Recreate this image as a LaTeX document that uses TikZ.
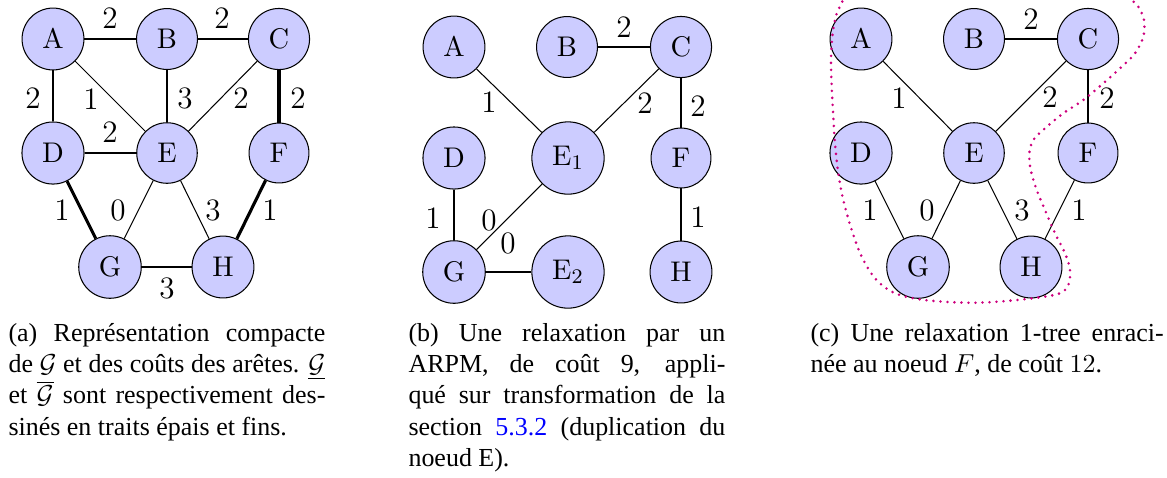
\documentclass[tikz,border=0pt]{standalone}
\usepackage[no-math]{fontspec}
\setmainfont{Liberation Serif}
\usetikzlibrary{calc}
\definecolor{nodefill}{RGB}{204,204,255}
\definecolor{dotc}{RGB}{205,0,125}
\definecolor{linkc}{RGB}{0,0,255}
\begin{document}
\begin{tikzpicture}[x=0.385pt,y=-0.385pt,
  vtx/.style={circle, draw=black, line width=0.4pt, fill=nodefill, minimum size=23pt, inner sep=4.5pt, font=\fontsize{11}{13}\selectfont},
  edge/.style={draw=black, line width=0.4pt},
  thk/.style={draw=black, line width=1.2pt},
  lbl/.style={inner sep=0pt, font=\fontsize{12}{14}\selectfont},
  captxt/.style={inner sep=0pt, anchor=north west, align=justify, font=\fontsize{10}{12}\selectfont},
  ring/.style={draw=dotc, line width=1.1pt, line cap=round, dash pattern=on 0pt off 2.7pt}]
\useasboundingbox (0,0) rectangle (1167,477);
% ---------------- panel (a)
\node[vtx] (aA) at (53,39) {$\mathrm{A}$};
\node[vtx] (aB) at (167,39) {$\mathrm{B}$};
\node[vtx] (aC) at (279,39) {$\mathrm{C}$};
\node[vtx] (aD) at (53,153) {$\mathrm{D}$};
\node[vtx] (aE) at (167,153) {$\mathrm{E}$};
\node[vtx] (aF) at (279,153) {$\mathrm{F}$};
\node[vtx] (aG) at (110,267) {$\mathrm{G}$};
\node[vtx] (aH) at (223,267) {$\mathrm{H}$};
\draw[edge] (aA) -- (aB);
\draw[edge] (aB) -- (aC);
\draw[edge] (aA) -- (aD);
\draw[edge] (aA) -- (aE);
\draw[edge] (aB) -- (aE);
\draw[edge] (aC) -- (aE);
\draw[thk] (aC) -- (aF);
\draw[edge] (aD) -- (aE);
\draw[thk] (aD) -- (aG);
\draw[edge] (aE) -- (aG);
\draw[edge] (aE) -- (aH);
\draw[thk] (aF) -- (aH);
\draw[edge] (aG) -- (aH);
\node[lbl] (la1) at (110,18) {$2$};
\node[lbl] (la2) at (222,18) {$2$};
\node[lbl] (la3) at (33,98) {$2$};
\node[lbl] (la4) at (91,99) {$1$};
\node[lbl] (la5) at (185,98) {$3$};
\node[lbl] (la6) at (241,98) {$2$};
\node[lbl] (la7) at (298,98) {$2$};
\node[lbl] (la8) at (110,132) {$2$};
\node[lbl] (la9) at (62,210) {$1$};
\node[lbl] (la10) at (118,210) {$0$};
\node[lbl] (la11) at (213,210) {$3$};
\node[lbl] (la12) at (270,210) {$1$};
\node[lbl] (la13) at (167,288) {$3$};
% ---------------- panel (b)
\node[vtx] (bA) at (454,47) {$\mathrm{A}$};
\node[vtx] (bB) at (567,47) {$\mathrm{B}$};
\node[vtx] (bC) at (681,47) {$\mathrm{C}$};
\node[vtx] (bD) at (454,158) {$\mathrm{D}$};
\node[vtx] (bE1) at (568,158) {$\mathrm{E}_1$};
\node[vtx] (bF) at (681,158) {$\mathrm{F}$};
\node[vtx] (bG) at (454,272) {$\mathrm{G}$};
\node[vtx] (bE2) at (568,272) {$\mathrm{E}_2$};
\node[vtx] (bH) at (681,272) {$\mathrm{H}$};
\draw[edge] (bA) -- (bE1);
\draw[edge] (bB) -- (bC);
\draw[edge] (bC) -- (bE1);
\draw[edge] (bC) -- (bF);
\draw[edge] (bD) -- (bG);
\draw[edge] (bE1) -- (bG);
\draw[edge] (bG) -- (bE2);
\draw[edge] (bF) -- (bH);
\node[lbl] (lb1) at (489,102) {$1$};
\node[lbl] (lb2) at (624,27) {$2$};
\node[lbl] (lb3) at (645,103) {$2$};
\node[lbl] (lb4) at (698,106) {$2$};
\node[lbl] (lb5) at (433,218) {$1$};
\node[lbl] (lb6) at (489,220) {$0$};
\node[lbl] (lb7) at (508,243) {$0$};
\node[lbl] (lb8) at (698,217) {$1$};
% ---------------- panel (c)
\node[vtx] (cA) at (861,39) {$\mathrm{A}$};
\node[vtx] (cB) at (974,39) {$\mathrm{B}$};
\node[vtx] (cC) at (1088,39) {$\mathrm{C}$};
\node[vtx] (cD) at (861,153) {$\mathrm{D}$};
\node[vtx] (cE) at (974,153) {$\mathrm{E}$};
\node[vtx] (cF) at (1088,153) {$\mathrm{F}$};
\node[vtx] (cG) at (918,267) {$\mathrm{G}$};
\node[vtx] (cH) at (1031,267) {$\mathrm{H}$};
\draw[edge] (cB) -- (cC);
\draw[edge] (cA) -- (cE);
\draw[edge] (cC) -- (cE);
\draw[edge] (cC) -- (cF);
\draw[edge] (cD) -- (cG);
\draw[edge] (cE) -- (cG);
\draw[edge] (cE) -- (cH);
\draw[edge] (cF) -- (cH);
\node[lbl] (lc1) at (1031,19) {$2$};
\node[lbl] (lc2) at (899,98) {$1$};
\node[lbl] (lc3) at (1050,97) {$2$};
\node[lbl] (lc4) at (1107,98) {$2$};
\node[lbl] (lc5) at (870,210) {$1$};
\node[lbl] (lc6) at (927,210) {$0$};
\node[lbl] (lc7) at (1022,210) {$3$};
\node[lbl] (lc8) at (1079,210) {$1$};
\begin{scope}
\clip (0,0) rectangle (1167,477);
\draw[ring] plot[smooth, tension=0.55] coordinates {
 (846,-12) (841.7,3.3) (836.7,13.3) (832.7,33.3) (831,60) (831.7,86.7) (833.3,116.7)
 (835,143.3) (838.3,173.3) (843.3,200) (851.7,230) (861.7,256.7) (875,278.3)
 (891.7,291.7) (913.3,298.3) (943.3,301.7) (976.7,302.7) (1010,300.7) (1040,297.3)
 (1060,293.3) (1068.3,285) (1070,270) (1065,253.3) (1055,233.3) (1045,210)
 (1036.7,190) (1030.7,170) (1029.3,153.3) (1033.3,140) (1045,128.3) (1063.3,113.3)
 (1083.3,100) (1103.3,83.3) (1121.7,66.7) (1135,53.3) (1143.3,36.7) (1144,20)
 (1138.3,6.7) (1131.7,0) (1122,-10)};
\end{scope}
% ---------------- captions
\node[captxt, text width=122pt] (capa) at (8,323) {\hyphenpenalty=10000 (a) Représentation compacte\linebreak de $\mathcal{G}$ et des coûts des arêtes. $\underline{\mathcal{G}}$\linebreak et $\overline{\mathcal{G}}$ sont respectivement des-\linebreak sinés en traits épais et fins.};
\node[captxt, text width=122pt] (capb) at (408,323) {\hyphenpenalty=10000 (b) Une relaxation par un\linebreak ARPM, de coût 9, appli-\linebreak qué sur transformation de la\linebreak section \textcolor{linkc}{5.3.2} (duplication du\linebreak noeud E).};
\node[captxt, text width=136pt] (capc) at (810,323) {\hyphenpenalty=10000 (c) Une relaxation 1-tree enraci-\linebreak née au noeud $F$, de coût $12$.};
\end{tikzpicture}
\end{document}
